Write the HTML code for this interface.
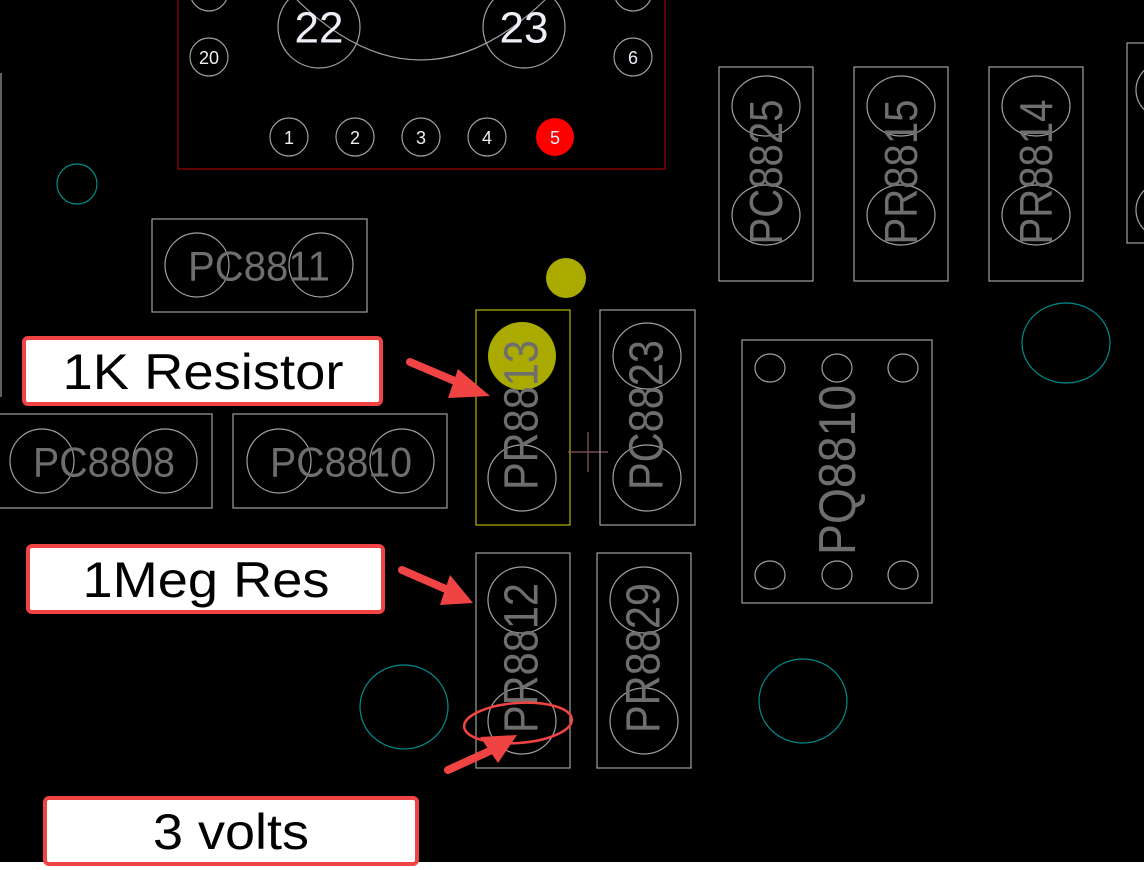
<!DOCTYPE html>
<html><head><meta charset="utf-8"><style>
html,body{margin:0;padding:0;background:#000;}
svg{display:block}
.g{fill:none;stroke:#a0a0a0;stroke-width:1.2}
.t{fill:#6e6e6e;font-family:"Liberation Sans",sans-serif;font-size:42px;text-anchor:middle;dominant-baseline:central}
.v{fill:#6e6e6e;font-family:"Liberation Sans",sans-serif;font-size:46px;text-anchor:middle;dominant-baseline:central}
.w{fill:#eeeef6;font-family:"Liberation Sans",sans-serif;text-anchor:middle;dominant-baseline:central}
.c{fill:none;stroke:#008c8c;stroke-width:1.2}
.lb{fill:#fff;stroke:#f04444;stroke-width:4}
.lt{fill:#000;font-family:"Liberation Sans",sans-serif;font-size:50px;text-anchor:middle;dominant-baseline:central}
</style></head><body>
<svg width="1144" height="870" viewBox="0 0 1144 870">
<rect x="0" y="0" width="1144" height="870" fill="#000"/>
<rect x="0" y="862" width="1144" height="8" fill="#fff"/>
<rect x="178" y="-5" width="487" height="174" fill="none" stroke="#a00000" stroke-width="1.2"/>
<path d="M297,0 Q420,120 545,0" fill="none" stroke="#a0a0a0" stroke-width="1.2"/>
<ellipse class="g" cx="319" cy="27" rx="41" ry="41"/>
<ellipse class="g" cx="524" cy="27" rx="41" ry="41"/>
<text class="w" x="319" y="28" font-size="44">22</text>
<text class="w" x="524" y="28" font-size="44">23</text>
<circle class="g" cx="209" cy="-8" r="19"/><circle class="g" cx="633" cy="-8" r="19"/>
<circle class="g" cx="209" cy="57" r="19"/><text class="w" x="209" y="58" font-size="18">20</text>
<circle class="g" cx="633" cy="57" r="19"/><text class="w" x="633" y="58" font-size="18">6</text>
<circle class="g" cx="289" cy="137" r="19"/><text class="w" x="289" y="138" font-size="18">1</text>
<circle class="g" cx="355" cy="137" r="19"/><text class="w" x="355" y="138" font-size="18">2</text>
<circle class="g" cx="421" cy="137" r="19"/><text class="w" x="421" y="138" font-size="18">3</text>
<circle class="g" cx="487" cy="137" r="19"/><text class="w" x="487" y="138" font-size="18">4</text>
<circle cx="555" cy="137" r="19" fill="#ff0000"/><text class="w" x="555" y="138" font-size="18">5</text>
<line x1="1" y1="73" x2="1" y2="397" stroke="#a0a0a0" stroke-width="1.2"/>
<circle class="c" cx="77" cy="184" r="20"/>
<ellipse class="c" cx="1066" cy="343" rx="44" ry="40"/>
<ellipse class="c" cx="404" cy="707" rx="44" ry="42"/>
<ellipse class="c" cx="803" cy="701" rx="44" ry="42"/>
<rect class="g" x="152" y="219" width="215" height="93"/>
<ellipse class="g" cx="197" cy="265" rx="32" ry="32"/><ellipse class="g" cx="321" cy="265" rx="32" ry="32"/>
<text class="t" x="259" y="266" textLength="142" lengthAdjust="spacingAndGlyphs">PC8811</text>
<rect class="g" x="-1" y="414" width="213" height="94"/>
<ellipse class="g" cx="42" cy="461" rx="32" ry="32"/><ellipse class="g" cx="165" cy="461" rx="32" ry="32"/>
<text class="t" x="104" y="462" textLength="142" lengthAdjust="spacingAndGlyphs">PC8808</text>
<rect class="g" x="233" y="414" width="214" height="94"/>
<ellipse class="g" cx="279" cy="461" rx="32" ry="32"/><ellipse class="g" cx="402" cy="461" rx="32" ry="32"/>
<text class="t" x="341" y="462" textLength="142" lengthAdjust="spacingAndGlyphs">PC8810</text>
<circle cx="566" cy="278" r="20" fill="#aaaa00"/>
<rect x="476" y="310" width="94" height="215" fill="none" stroke="#b4b400" stroke-width="1.2"/>
<circle cx="522" cy="356" r="34" fill="#aaaa00"/>
<ellipse class="g" cx="522" cy="478" rx="34" ry="33"/>
<text class="v" transform="translate(522,415) rotate(-90)" style="font-size:48px" textLength="150" lengthAdjust="spacingAndGlyphs">PR8813</text>
<line x1="568" y1="452" x2="608" y2="452" stroke="#8a5a60" stroke-width="1.2"/>
<line x1="588" y1="432" x2="588" y2="472" stroke="#8a5a60" stroke-width="1.2"/>
<rect class="g" x="600" y="310" width="95" height="215"/>
<ellipse class="g" cx="647" cy="356" rx="34" ry="33"/><ellipse class="g" cx="647" cy="478" rx="34" ry="33"/>
<text class="v" transform="translate(647,415) rotate(-90)" style="font-size:48px" textLength="150" lengthAdjust="spacingAndGlyphs">PC8823</text>
<rect class="g" x="476" y="553" width="94" height="215"/>
<ellipse class="g" cx="522" cy="600" rx="34" ry="33"/><ellipse class="g" cx="522" cy="721" rx="34" ry="33"/>
<text class="v" transform="translate(522,658) rotate(-90)" style="font-size:48px" textLength="150" lengthAdjust="spacingAndGlyphs">PR8812</text>
<rect class="g" x="597" y="553" width="94" height="215"/>
<ellipse class="g" cx="644" cy="600" rx="34" ry="33"/><ellipse class="g" cx="644" cy="721" rx="34" ry="33"/>
<text class="v" transform="translate(644,658) rotate(-90)" style="font-size:48px" textLength="150" lengthAdjust="spacingAndGlyphs">PR8829</text>
<rect class="g" x="719" y="67" width="94" height="214"/>
<ellipse class="g" cx="766" cy="106" rx="34" ry="30"/><ellipse class="g" cx="766" cy="215" rx="34" ry="30"/>
<text class="v" transform="translate(766,172) rotate(-90)" textLength="145" lengthAdjust="spacingAndGlyphs">PC8825</text>
<rect class="g" x="854" y="67" width="94" height="214"/>
<ellipse class="g" cx="901" cy="106" rx="34" ry="30"/><ellipse class="g" cx="901" cy="215" rx="34" ry="30"/>
<text class="v" transform="translate(901,172) rotate(-90)" textLength="145" lengthAdjust="spacingAndGlyphs">PR8815</text>
<rect class="g" x="989" y="67" width="94" height="214"/>
<ellipse class="g" cx="1036" cy="106" rx="34" ry="30"/><ellipse class="g" cx="1036" cy="215" rx="34" ry="30"/>
<text class="v" transform="translate(1036,172) rotate(-90)" textLength="145" lengthAdjust="spacingAndGlyphs">PR8814</text>
<rect class="g" x="1127" y="43" width="40" height="200"/>
<ellipse class="g" cx="1170" cy="90" rx="34" ry="30"/><ellipse class="g" cx="1170" cy="210" rx="34" ry="30"/>
<rect class="g" x="742" y="340" width="190" height="263"/>
<ellipse class="g" cx="770" cy="368" rx="15" ry="14"/><ellipse class="g" cx="837" cy="368" rx="15" ry="14"/><ellipse class="g" cx="903" cy="368" rx="15" ry="14"/>
<ellipse class="g" cx="770" cy="575" rx="15" ry="14"/><ellipse class="g" cx="837" cy="575" rx="15" ry="14"/><ellipse class="g" cx="903" cy="575" rx="15" ry="14"/>
<text class="v" transform="translate(838,470) rotate(-90)" style="font-size:52px" textLength="170" lengthAdjust="spacingAndGlyphs">PQ8810</text>
<ellipse cx="518" cy="723" rx="54" ry="20" fill="none" stroke="#f04444" stroke-width="2.5" transform="rotate(-4 518 723)"/>
<g stroke="#f04444" stroke-width="8" stroke-linecap="round">
<line x1="410" y1="362" x2="462" y2="384"/>
<line x1="402" y1="570" x2="448" y2="590"/>
<line x1="448" y1="770" x2="492" y2="750"/>
</g>
<g fill="#f04444">
<polygon points="490,396 458,369 448,398"/>
<polygon points="473,603 450,575 440,605"/>
<polygon points="517,735 480,737 498,763"/>
</g>
<rect class="lb" x="24" y="338" width="357" height="66" rx="4"/>
<text class="lt" x="203" y="372" textLength="281" lengthAdjust="spacingAndGlyphs">1K Resistor</text>
<rect class="lb" x="28" y="546" width="355" height="66" rx="4"/>
<text class="lt" x="206" y="580" textLength="247" lengthAdjust="spacingAndGlyphs">1Meg Res</text>
<rect class="lb" x="45" y="798" width="372" height="66" rx="4"/>
<text class="lt" x="231" y="832" textLength="156" lengthAdjust="spacingAndGlyphs">3 volts</text>
</svg>
</body></html>
